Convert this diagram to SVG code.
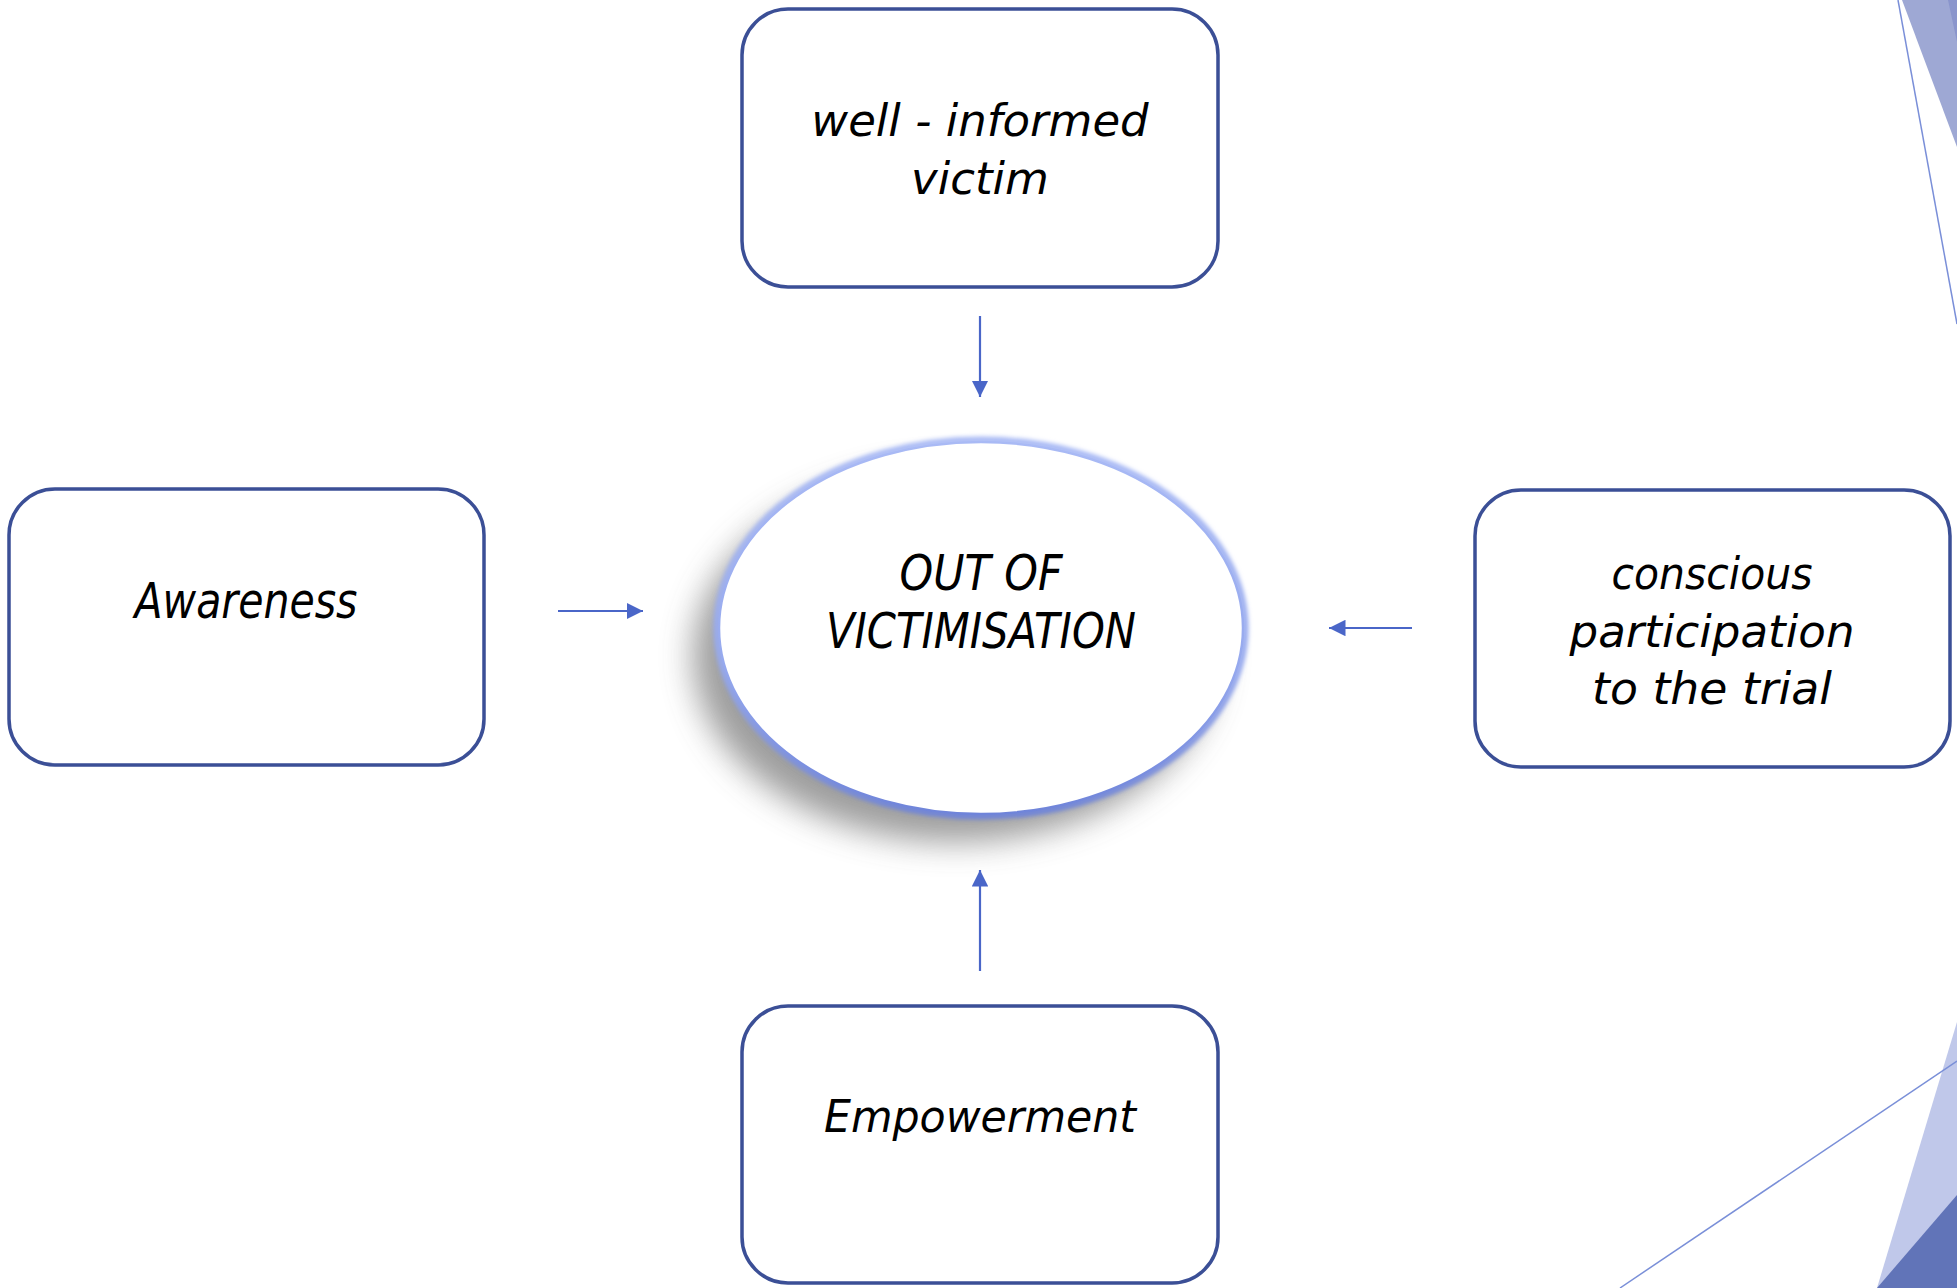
<svg xmlns="http://www.w3.org/2000/svg" width="1957" height="1288" viewBox="0 0 1957 1288">
<style>
.box{fill:#ffffff;stroke:#3B4F96;stroke-width:3.5}
.lbl{font-family:"DejaVu Sans",Verdana,sans-serif;font-style:italic;font-size:45px;fill:#000000;text-anchor:middle}
.cond{font-family:"DejaVu Sans",sans-serif;font-style:italic;font-size:50px;fill:#000000;text-anchor:middle}
.conn{stroke:#4A66C8;stroke-width:2.2;fill:none}
</style>
<defs>
<marker id="ah" viewBox="0 0 10 10" refX="10" refY="5" markerWidth="7.5" markerHeight="7.5" orient="auto" markerUnits="strokeWidth">
<path d="M0,0 L10,5 L0,10 Z" fill="#4A66C8"/>
</marker>
<filter id="shadow" x="-30%" y="-30%" width="160%" height="160%">
<feGaussianBlur stdDeviation="16"/>
</filter>
<filter id="glow" x="-10%" y="-10%" width="120%" height="120%">
<feGaussianBlur stdDeviation="2"/>
</filter>
<linearGradient id="rim" x1="0" y1="0" x2="0" y2="1">
<stop offset="0" stop-color="#A9BAF5"/>
<stop offset="0.6" stop-color="#96A9EE"/>
<stop offset="1" stop-color="#6F84D9"/>
</linearGradient>
</defs>
<rect width="1957" height="1288" fill="#ffffff"/>
<g id="decor">
<polygon points="1902,0 1957,0 1957,147" fill="#9EA8D4"/>
<polygon points="1948,0 1957,0 1957,42" fill="#8A95CC"/>
<line x1="1898" y1="0" x2="1957" y2="324" stroke="#7A8FD8" stroke-width="1.5"/>
<polygon points="1877,1288 1957,1022 1957,1288" fill="#C0C8EA"/>
<polygon points="1877,1288 1957,1195 1957,1288" fill="#6174B8"/>
<line x1="1620" y1="1288" x2="1957" y2="1061" stroke="#7A8FD8" stroke-width="1.5"/>
</g>
<g id="center">
<ellipse cx="955" cy="656" rx="262" ry="186" fill="#8c8c8c" opacity="0.85" filter="url(#shadow)"/>
<ellipse cx="981" cy="628" rx="264" ry="188" fill="none" stroke="url(#rim)" stroke-width="7" filter="url(#glow)"/>
<ellipse cx="981" cy="628" rx="262" ry="186" fill="#ffffff" stroke="url(#rim)" stroke-width="2.5"/>
<text class="cond" x="981" y="590" textLength="163" lengthAdjust="spacingAndGlyphs">OUT OF</text>
<text class="cond" x="981" y="648" textLength="310" lengthAdjust="spacingAndGlyphs">VICTIMISATION</text>
</g>
<g id="top">
<rect class="box" x="742" y="9" width="476" height="278" rx="46" ry="46"/>
<text class="lbl" x="980" y="136">well - informed</text>
<text class="lbl" x="980" y="194">victim</text>
</g>
<g id="left">
<rect class="box" x="9" y="489" width="475" height="276" rx="46" ry="46"/>
<text class="cond" x="246" y="618" textLength="223" lengthAdjust="spacingAndGlyphs">Awareness</text>
</g>
<g id="right">
<rect class="box" x="1475" y="490" width="475" height="277" rx="46" ry="46"/>
<text class="lbl" x="1712" y="589" textLength="201" lengthAdjust="spacingAndGlyphs">conscious</text>
<text class="lbl" x="1712" y="647" textLength="285" lengthAdjust="spacingAndGlyphs">participation</text>
<text class="lbl" x="1712" y="704" textLength="240" lengthAdjust="spacingAndGlyphs">to the trial</text>
</g>
<g id="bottom">
<rect class="box" x="742" y="1006" width="476" height="277" rx="46" ry="46"/>
<text class="lbl" x="980" y="1132" textLength="312" lengthAdjust="spacingAndGlyphs">Empowerment</text>
</g>
<g id="connectors">
<line class="conn" x1="980" y1="316" x2="980" y2="397" marker-end="url(#ah)"/>
<line class="conn" x1="980" y1="971" x2="980" y2="870" marker-end="url(#ah)"/>
<line class="conn" x1="558" y1="611" x2="643" y2="611" marker-end="url(#ah)"/>
<line class="conn" x1="1412" y1="628" x2="1329" y2="628" marker-end="url(#ah)"/>
</g>
</svg>
